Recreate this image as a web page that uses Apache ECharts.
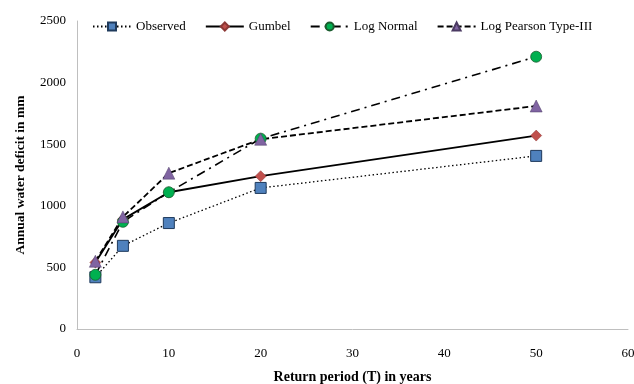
<!DOCTYPE html>
<html><head><meta charset="utf-8">
<script src="https://cdn.jsdelivr.net/npm/echarts@6/dist/echarts.min.js"></script>
<style>html,body{margin:0;padding:0;background:#fff}#c{width:634px;height:384px}</style>
</head><body><div id="c"></div>
<script>
const returnPeriods = [2, 5, 10, 20, 50];
const observed = [420, 675, 860, 1145, 1405];
const gumbel = [540, 890, 1110, 1240, 1570];
const logNormal = [440, 870, 1110, 1545, 2210];
const logPearson = [550, 910, 1265, 1540, 1810];
const seriesNames = ['Observed', 'Gumbel', 'Log Normal', 'Log Pearson Type-III'];

const font = 'Liberation Serif';
const pairs = arr => returnPeriods.map((x, i) => [x, arr[i]]);

const chart = echarts.init(document.getElementById('c'));
chart.setOption({
  animation: false,
  textStyle: { fontFamily: font },
  legend: {
    top: 15, left: 87, itemWidth: 38, itemHeight: 10, itemGap: 19,
    textStyle: { fontFamily: font, fontSize: 13, color: '#000' },
    data: seriesNames
  },
  grid: { left: 77, right: 6, top: 21, bottom: 55, outerBoundsMode: 'none', containLabel: false },
  xAxis: {
    type: 'value', min: 0, max: 60, interval: 10,
    name: 'Return period (T) in years', nameLocation: 'middle', nameGap: 41,
    nameTextStyle: { fontFamily: font, fontWeight: 'bold', fontSize: 14, color: '#000' },
    axisLine: { lineStyle: { color: '#bfbfbf' } },
    axisTick: { show: false },
    splitLine: { show: false },
    axisLabel: { color: '#000', fontSize: 13, fontFamily: font, margin: 18 }
  },
  yAxis: {
    type: 'value', min: 0, max: 2500, interval: 500,
    name: 'Annual water deficit in mm', nameLocation: 'middle', nameGap: 49,
    nameTextStyle: { fontFamily: font, fontWeight: 'bold', fontSize: 13.5, color: '#000' },
    axisLine: { show: true, lineStyle: { color: '#bfbfbf' } },
    axisTick: { show: false },
    splitLine: { show: false },
    axisLabel: { color: '#000', fontSize: 13, fontFamily: font, margin: 11, formatter: v => String(v) }
  },
  series: [
    { name: seriesNames[0], type: 'line', data: pairs(observed),
      symbol: 'rect', symbolSize: 11,
      lineStyle: { color: '#000', width: 1.3, type: [1.5, 2.5] },
      itemStyle: { color: '#4f81bd', borderColor: '#1f3a5c', borderWidth: 1 } },
    { name: seriesNames[1], type: 'line', data: pairs(gumbel),
      symbol: 'diamond', symbolSize: 11,
      lineStyle: { color: '#000', width: 1.8, type: 'solid' },
      itemStyle: { color: '#c0504d', borderColor: '#8c3836', borderWidth: 0.5 } },
    { name: seriesNames[2], type: 'line', data: pairs(logNormal),
      symbol: 'circle', symbolSize: 11,
      lineStyle: { color: '#000', width: 1.6, type: [9, 5, 2, 5] },
      itemStyle: { color: '#00b050', borderColor: '#1a5c2e', borderWidth: 0.8 } },
    { name: seriesNames[3], type: 'line', data: pairs(logPearson),
      symbol: 'triangle', symbolSize: 12,
      lineStyle: { color: '#000', width: 1.8, type: [6, 3] },
      itemStyle: { color: '#8064a2', borderColor: '#4b3a62', borderWidth: 0.5 } }
  ]
});
</script></body></html>
